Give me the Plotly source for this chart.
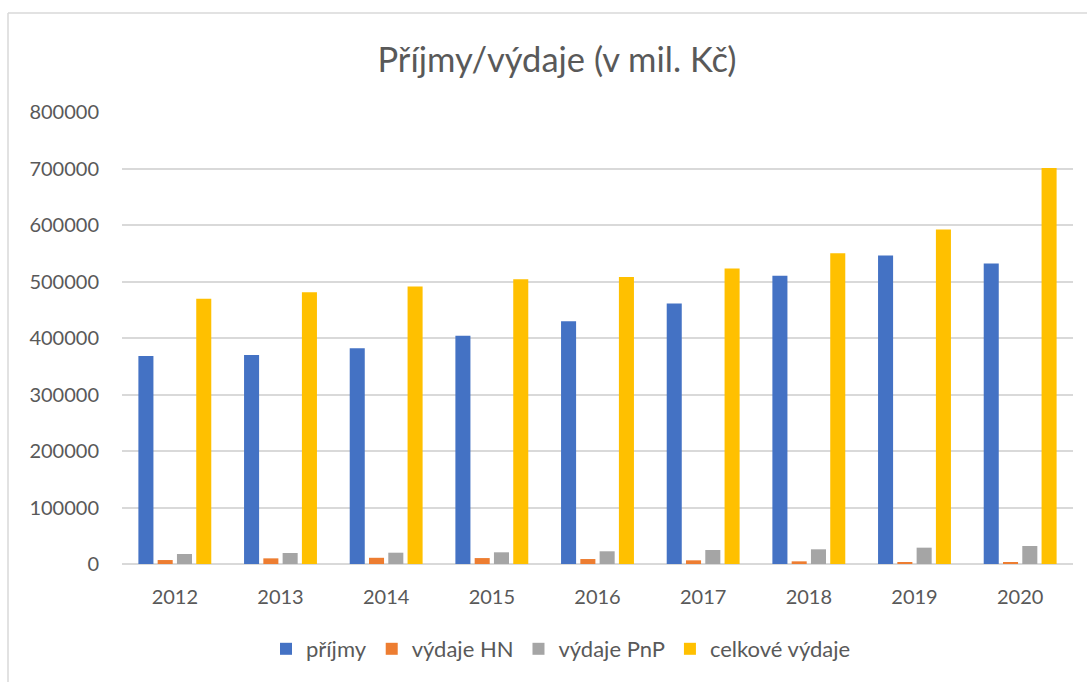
import plotly.graph_objects as go

years = ["2012", "2013", "2014", "2015", "2016", "2017", "2018", "2019", "2020"]
prijmy = [368000, 370000, 382000, 404000, 429500, 461000, 510000, 546000, 532000]
vydaje_hn = [7000, 10000, 11000, 10500, 8800, 6500, 4700, 3500, 3500]
vydaje_pnp = [17700, 19500, 20000, 20700, 22500, 24800, 26000, 28900, 31900]
celkove_vydaje = [469600, 481000, 491000, 504000, 508000, 523000, 550000, 592000, 701000]
y_ticks = [0, 100000, 200000, 300000, 400000, 500000, 600000, 700000, 800000]

series = [
    ("příjmy", prijmy, "#4472C4"),
    ("výdaje HN", vydaje_hn, "#ED7D31"),
    ("výdaje PnP", vydaje_pnp, "#A5A5A5"),
    ("celkové výdaje", celkove_vydaje, "#FFC000"),
]

FONT = "Lato"
GRAY = "#595959"

fig = go.Figure()
for name, vals, col in series:
    fig.add_trace(go.Bar(x=years, y=vals, name=name, marker=dict(color=col, line=dict(width=0))))

W, H = 1087, 682
L, R, T, B = 122, 14, 112, 118
pw = W - L - R
ph = H - T - B

fig.update_layout(
    width=W, height=H,
    margin=dict(l=L, r=R, t=T, b=B, autoexpand=False),
    paper_bgcolor="white", plot_bgcolor="white",
    barmode="group", bargap=0.27, bargroupgap=0.22,
    font=dict(family=FONT, color=GRAY, size=19),
    title=dict(text="Příjmy/výdaje (v mil. Kč)", x=(557 - L) / pw, xref="paper", xanchor="center",
               y=1 - 60 / H, yref="container", yanchor="middle",
               font=dict(family=FONT, size=34.5, color=GRAY)),
    legend=dict(orientation="h", x=(561 - L) / pw, xanchor="center", xref="paper",
                y=1 - 649 / H, yref="container", yanchor="middle",
                font=dict(family=FONT, size=22, color=GRAY), itemwidth=30, traceorder="normal"),
    xaxis=dict(showgrid=False, showline=False, ticks="", tickfont=dict(size=20, color=GRAY), ticklabelstandoff=19),
    yaxis=dict(range=[0, 800000], tickvals=y_ticks, ticktext=[str(v) for v in y_ticks],
               showgrid=True, gridcolor="#D9D9D9", gridwidth=1.5, zeroline=True, zerolinecolor="#D9D9D9",
               zerolinewidth=1.5, showline=False, ticks="", tickfont=dict(size=20, color=GRAY),
               ticklabelstandoff=22),
    showlegend=True,
)

# chart area border (top and left edges visible)
fig.add_shape(type="line", xref="paper", yref="paper",
              x0=(8 - L) / pw, x1=(W + 5 - L) / pw, y0=1 + (T - 13) / ph, y1=1 + (T - 13) / ph,
              line=dict(color="#D9D9D9", width=1.5))
fig.add_shape(type="line", xref="paper", yref="paper",
              x0=(8 - L) / pw, x1=(8 - L) / pw, y0=1 + (T - 13) / ph, y1=-(B + 5) / ph,
              line=dict(color="#D9D9D9", width=1.5))

fig.write_html("out.html", config={"displayModeBar": False},
               post_script="document.body.style.margin='0';document.body.style.padding='0';")
